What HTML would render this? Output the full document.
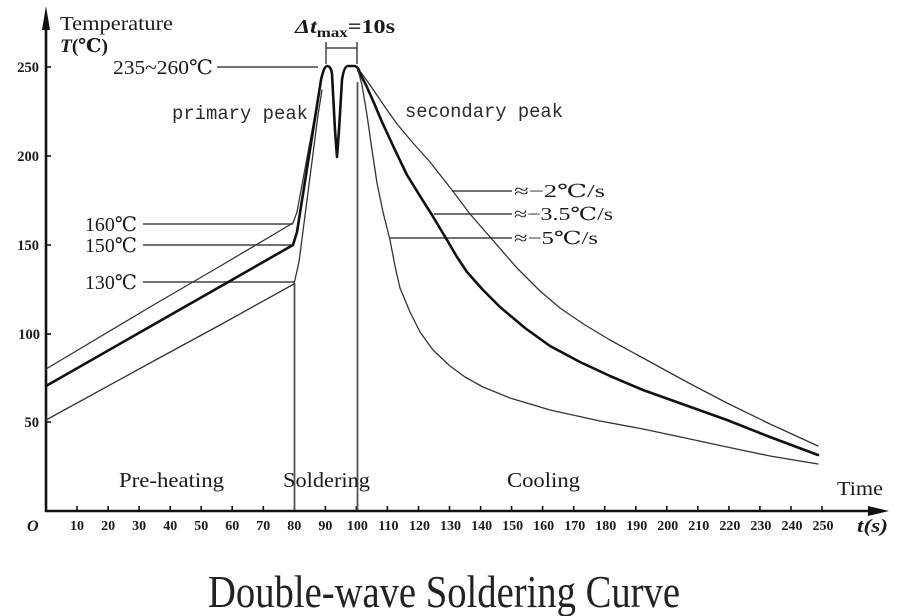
<!DOCTYPE html>
<html>
<head>
<meta charset="utf-8">
<style>
html,body{margin:0;padding:0;background:#fff;}
svg{display:block;}
text{font-family:"Liberation Serif","DejaVu Serif","Noto Serif CJK SC",serif;fill:#1a1a1a;}
.tk{font-size:14px;font-weight:bold;text-anchor:middle;}
.yk{font-size:14.5px;font-weight:bold;text-anchor:end;}
.mono{font-family:"Liberation Mono","DejaVu Sans Mono",monospace;font-size:19px;fill:#2a2a2a;}
</style>
</head>
<body>
<svg width="903" height="616" viewBox="0 0 903 616" xmlns="http://www.w3.org/2000/svg">
<rect width="903" height="616" fill="#fff"/>

<!-- axes -->
<g stroke="#111" stroke-width="2.6" fill="none">
  <line x1="46" y1="20" x2="46" y2="512"/>
  <line x1="45" y1="511" x2="876" y2="511"/>
</g>
<polygon points="46,6 42,30 50,30" fill="#111"/>
<polygon points="889,511 868,506 868,516" fill="#111"/>

<!-- x ticks -->
<g stroke="#111" stroke-width="1.6">
  <line x1="77" y1="506" x2="77" y2="511"/><line x1="108.1" y1="506" x2="108.1" y2="511"/>
  <line x1="139.1" y1="506" x2="139.1" y2="511"/><line x1="170.2" y1="506" x2="170.2" y2="511"/>
  <line x1="201.2" y1="506" x2="201.2" y2="511"/><line x1="232.2" y1="506" x2="232.2" y2="511"/>
  <line x1="263.3" y1="506" x2="263.3" y2="511"/><line x1="294.3" y1="506" x2="294.3" y2="511"/>
  <line x1="325.4" y1="506" x2="325.4" y2="511"/><line x1="356.4" y1="506" x2="356.4" y2="511"/>
  <line x1="387.4" y1="506" x2="387.4" y2="511"/><line x1="418.5" y1="506" x2="418.5" y2="511"/>
  <line x1="449.5" y1="506" x2="449.5" y2="511"/><line x1="480.6" y1="506" x2="480.6" y2="511"/>
  <line x1="511.6" y1="506" x2="511.6" y2="511"/><line x1="542.6" y1="506" x2="542.6" y2="511"/>
  <line x1="573.7" y1="506" x2="573.7" y2="511"/><line x1="604.7" y1="506" x2="604.7" y2="511"/>
  <line x1="635.8" y1="506" x2="635.8" y2="511"/><line x1="666.8" y1="506" x2="666.8" y2="511"/>
  <line x1="697.8" y1="506" x2="697.8" y2="511"/><line x1="728.9" y1="506" x2="728.9" y2="511"/>
  <line x1="759.9" y1="506" x2="759.9" y2="511"/><line x1="791" y1="506" x2="791" y2="511"/>
  <line x1="822" y1="506" x2="822" y2="511"/>
  <!-- y ticks -->
  <line x1="46" y1="67" x2="51" y2="67"/><line x1="46" y1="156" x2="51" y2="156"/>
  <line x1="46" y1="245" x2="51" y2="245"/><line x1="46" y1="334" x2="51" y2="334"/>
  <line x1="46" y1="422" x2="51" y2="422"/>
</g>

<!-- x tick labels -->
<g class="tk">
  <text x="77" y="530" class="tk">10</text><text x="108.1" y="530" class="tk">20</text>
  <text x="139.1" y="530" class="tk">30</text><text x="170.2" y="530" class="tk">40</text>
  <text x="201.2" y="530" class="tk">50</text><text x="232.2" y="530" class="tk">60</text>
  <text x="263.3" y="530" class="tk">70</text><text x="294.3" y="530" class="tk">80</text>
  <text x="325.4" y="530" class="tk">90</text><text x="357.4" y="530" class="tk">100</text>
  <text x="388.4" y="530" class="tk">110</text><text x="419.5" y="530" class="tk">120</text>
  <text x="450.5" y="530" class="tk">130</text><text x="481.6" y="530" class="tk">140</text>
  <text x="512.6" y="530" class="tk">150</text><text x="543.6" y="530" class="tk">160</text>
  <text x="574.7" y="530" class="tk">170</text><text x="605.7" y="530" class="tk">180</text>
  <text x="636.8" y="530" class="tk">190</text><text x="667.8" y="530" class="tk">200</text>
  <text x="698.8" y="530" class="tk">210</text><text x="729.9" y="530" class="tk">220</text>
  <text x="760.9" y="530" class="tk">230</text><text x="792" y="530" class="tk">240</text>
  <text x="823" y="530" class="tk">250</text>
</g>
<text x="27" y="531" style="font-size:16px;font-style:italic;font-weight:bold;">O</text>

<!-- y tick labels -->
<text x="39" y="72" class="yk">250</text>
<text x="39" y="161" class="yk">200</text>
<text x="39" y="250" class="yk">150</text>
<text x="40" y="339" class="yk">100</text>
<text x="39" y="427" class="yk">50</text>

<!-- axis titles -->
<text x="60" y="30" style="font-size:20px;" textLength="113" lengthAdjust="spacingAndGlyphs">Temperature</text>
<text x="60" y="52" style="font-size:19px;font-weight:bold;" textLength="48" lengthAdjust="spacingAndGlyphs"><tspan font-style="italic">T</tspan>(℃)</text>
<text x="837" y="495" style="font-size:20px;" textLength="46" lengthAdjust="spacingAndGlyphs">Time</text>
<text x="857" y="532" style="font-size:19px;font-style:italic;font-weight:bold;" textLength="31" lengthAdjust="spacingAndGlyphs">t(s)</text>

<!-- vertical region lines -->
<g stroke="#555" stroke-width="1.8">
  <line x1="294.5" y1="283" x2="294.5" y2="510"/>
  <line x1="357.5" y1="82" x2="357.5" y2="510"/>
</g>

<!-- leader lines -->
<g stroke="#444" stroke-width="1.5">
  <line x1="217" y1="67" x2="318" y2="67"/>
  <line x1="143" y1="224" x2="293" y2="224"/>
  <line x1="143" y1="245" x2="293" y2="245"/>
  <line x1="143" y1="282" x2="294" y2="282"/>
  <line x1="452" y1="191" x2="512" y2="191"/>
  <line x1="434" y1="214" x2="512" y2="214"/>
  <line x1="390" y1="238" x2="512" y2="238"/>
  <!-- delta t bracket -->
  <line x1="326" y1="42" x2="326" y2="64"/>
  <line x1="357" y1="42" x2="357" y2="64"/>
  <line x1="326" y1="48" x2="357" y2="48"/>
</g>

<g fill="none" stroke-linejoin="round" stroke-linecap="round">
  <polyline stroke="#333" stroke-width="1.3" points="46,369 150,307 217,268 293,223 297,212 321,82"/>
  <polyline stroke="#333" stroke-width="1.3" points="46,420 150,363 220,325 294,284 299,262 318,115 322,90"/>
  <path stroke="#111" stroke-width="2.6" d="M46,386 L293,245 L297,232 L321,80 Q324,66 327,66 Q331,66 332,74 L335,130 L337,157 L339,130 L342,80 Q344,66 348,66 L354,66 Q357,66 359,70"/>
  <polyline stroke="#333" stroke-width="1.3" points="357,67 370,85 385,107 397,124 413,143 430,162 452,190 470,214 490,237 517,268 540,291 560,308 585,325 610,340 643,358 685,381 727,403 770,424 818,446"/>
  <polyline stroke="#111" stroke-width="2.6" points="358,70 366,85 374,103 382,122 395,150 407,175 420,196 432,215 447,240 457,257 467,272 483,290 500,307 525,328 550,346 580,362 610,376 643,390 685,405 727,420 770,437 818,455"/>
  <polyline stroke="#333" stroke-width="1.3" points="358,70 362,85 367,115 372,150 377,183 383,212 390,240 395,266 400,288 410,312 420,332 433,350 450,366 465,377 483,387 510,398 550,410 600,421 643,429 690,439 727,447 770,456 818,464"/>
</g>

<!-- annotations -->
<text x="113" y="74" style="font-size:20px;" textLength="100" lengthAdjust="spacingAndGlyphs">235~260℃</text>
<text x="295" y="33" style="font-size:20px;font-weight:bold;" textLength="100" lengthAdjust="spacingAndGlyphs"><tspan font-style="italic">Δt</tspan><tspan font-size="14px" dy="4">max</tspan><tspan dy="-4">=10s</tspan></text>
<text x="85" y="231" style="font-size:20px;" textLength="52" lengthAdjust="spacingAndGlyphs">160℃</text>
<text x="85" y="252" style="font-size:20px;" textLength="52" lengthAdjust="spacingAndGlyphs">150℃</text>
<text x="85" y="289" style="font-size:20px;" textLength="52" lengthAdjust="spacingAndGlyphs">130℃</text>
<text x="514" y="197" style="font-size:18px;" textLength="91" lengthAdjust="spacingAndGlyphs">≈−2℃/s</text>
<text x="514" y="220" style="font-size:18px;" textLength="99" lengthAdjust="spacingAndGlyphs">≈−3.5℃/s</text>
<text x="514" y="244" style="font-size:18px;" textLength="84" lengthAdjust="spacingAndGlyphs">≈−5℃/s</text>

<text x="172" y="119" class="mono" textLength="136" lengthAdjust="spacingAndGlyphs">primary peak</text>
<text x="405" y="117" class="mono" textLength="158" lengthAdjust="spacingAndGlyphs">secondary peak</text>

<text x="119" y="487" style="font-size:21px;" textLength="105" lengthAdjust="spacingAndGlyphs">Pre-heating</text>
<text x="283" y="487" style="font-size:21px;" textLength="87" lengthAdjust="spacingAndGlyphs">Soldering</text>
<text x="507" y="487" style="font-size:21px;" textLength="73" lengthAdjust="spacingAndGlyphs">Cooling</text>

<text x="208" y="607" style="font-size:46px;fill:#222;" textLength="472" lengthAdjust="spacingAndGlyphs">Double-wave Soldering Curve</text>
</svg>
</body>
</html>
